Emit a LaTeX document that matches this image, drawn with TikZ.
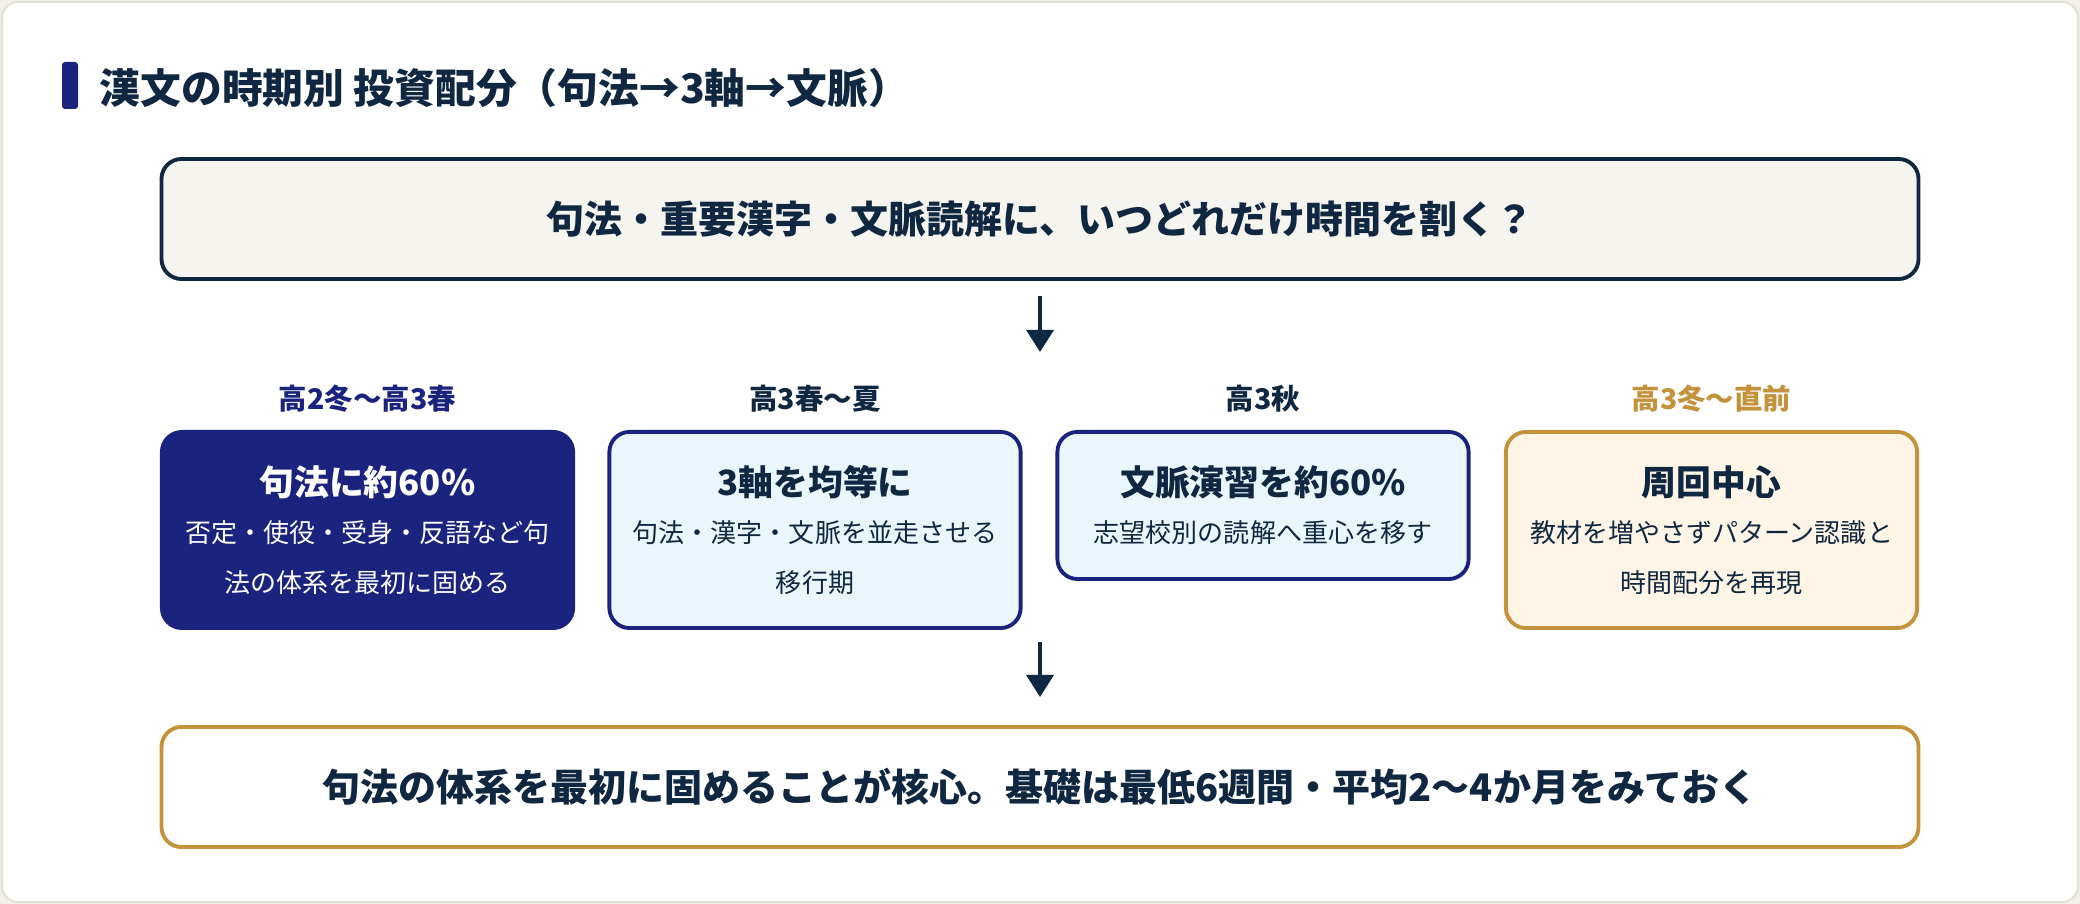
\documentclass[tikz,border=0pt]{standalone}
\usepackage{fontspec}
\setmainfont{Noto Sans CJK JP}
\usetikzlibrary{positioning}
\usetikzlibrary{arrows.meta}

\definecolor{ink}{HTML}{0F2741}
\definecolor{navy}{HTML}{1A237E}
\definecolor{gold}{HTML}{C4923A}
\definecolor{sky}{HTML}{E9F7FD}
\definecolor{cream}{HTML}{FFF5E6}
\definecolor{paper}{HTML}{F5F4EF}
\definecolor{frame}{HTML}{E3E1D6}
\definecolor{outside}{HTML}{F1F0EA}

\newcommand\phasehead[1]{{\fontsize{9.9pt}{14.2pt}\selectfont\bfseries #1}\\[-0.8pt]}

\tikzset{
  phase/.style={draw=navy,line width=1.1pt,fill=sky,text=ink,rounded corners=0.2cm,
    minimum width=4.11cm,minimum height=1.96cm,inner sep=0pt,anchor=north,align=center,
    font=\fontsize{7.4pt}{14.2pt}\selectfont},
  wide/.style={line width=1.1pt,rounded corners=0.2cm,minimum width=17.56cm,minimum height=1.2cm,
    inner sep=0pt,text=ink,font=\fontsize{10.8pt}{13pt}\selectfont\bfseries},
  when/.style={inner sep=0pt,font=\fontsize{8.1pt}{10pt}\selectfont\bfseries},
  flow/.style={draw=ink,line width=1.1pt,-{Triangle[width=7.7pt,length=6.3pt]}}
}

\begin{document}
\begin{tikzpicture}[x=0.01cm,y=-0.01cm]
  % background and card
  \fill[outside] (0,0) rectangle (2080,904);
  \draw[frame,fill=white,line width=0.6pt,rounded corners=0.16cm] (2,2) rectangle (2078,902);

  % title
  \fill[navy,rounded corners=0.03cm] (62,62) rectangle (78,109);
  \node[anchor=west,inner sep=0pt,text=ink,font=\fontsize{11.6pt}{14pt}\selectfont\bfseries] (title) at (99,88)
    {漢文の時期別 投資配分（句法→3軸→文脈）};

  % question
  \node[wide,fill=paper,draw=ink] (q) at (1040,219) {句法・重要漢字・文脈読解に、いつどれだけ時間を割く？};
  \coordinate (d1) at (1040,352);
  \draw[flow,shorten <=0.15cm] (q) -- (d1);

  % four phases
  \node[phase,fill=navy,text=white] (p1) at (367.5,430)
    {\phasehead{句法に約60\%}否定・使役・受身・反語など句\\法の体系を最初に固める};
  \node[phase] (p2) at (815,430)
    {\phasehead{3軸を均等に}句法・漢字・文脈を並走させる\\移行期};
  \node[phase,minimum height=1.47cm] (p3) at (1263,430)
    {\phasehead{文脈演習を約60\%}志望校別の読解へ重心を移す};
  \node[phase,draw=gold,fill=cream] (p4) at (1711.5,430)
    {\phasehead{周回中心}教材を増やさずパターン認識と\\時間配分を再現};

  \node[when,text=navy,above=0.17cm of p1] (t1) {高2冬〜高3春};
  \node[when,text=ink,above=0.17cm of p2] (t2) {高3春〜夏};
  \node[when,text=ink,above=0.17cm of p3] (t3) {高3秋};
  \node[when,text=gold,above=0.17cm of p4] (t4) {高3冬〜直前};

  % summary
  \node[wide,fill=white,draw=gold] (s) at (1040,787) {句法の体系を最初に固めることが核心。基礎は最低6週間・平均2〜4か月をみておく};
  \coordinate (d2) at (1040,642);
  \draw[flow,shorten >=0.28cm] (d2) -- (s);
\end{tikzpicture}
\end{document}
